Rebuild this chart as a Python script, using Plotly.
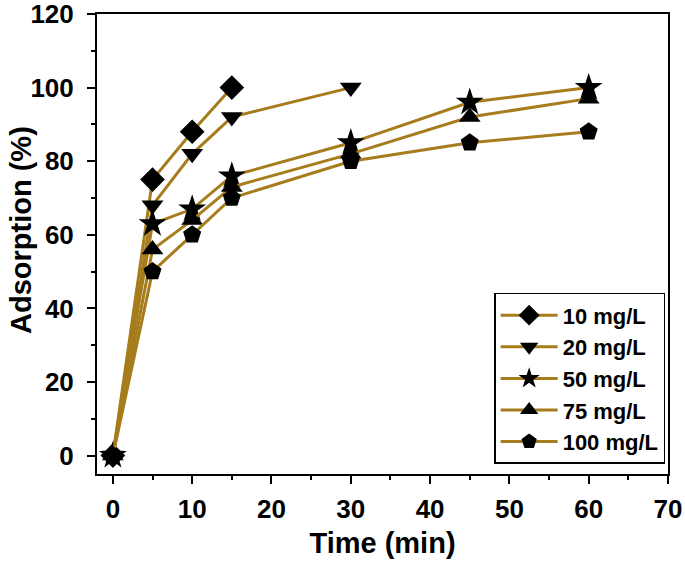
import plotly.graph_objects as go

time = [0, 5, 10, 15, 30, 45, 60]
series_names = ["10 mg/L", "20 mg/L", "50 mg/L", "75 mg/L", "100 mg/L"]
ads_10 = [0, 75, 88, 100]
ads_20 = [0, 68, 82, 92, 100]
ads_50 = [0, 63, 67, 76, 85, 96, 100]
ads_75 = [0, 56, 64, 73, 82, 92, 97]
ads_100 = [0, 50, 60, 70, 80, 85, 88]
symbols = ["diamond", "triangle-down", "star", "triangle-up", "pentagon"]
sizes = [19, 19, 21, 19, 19]

LINE = "#A67C1C"
FONT = "Liberation Sans, Arial, sans-serif"

fig = go.Figure()
for name, ys, sym, sz in zip(series_names, [ads_10, ads_20, ads_50, ads_75, ads_100], symbols, sizes):
    fig.add_trace(go.Scatter(
        x=time[:len(ys)], y=ys, name=name, mode="lines+markers",
        line=dict(color=LINE, width=3),
        marker=dict(symbol=sym, size=sz, color="black", line=dict(width=0)),
    ))

axis_common = dict(
    showline=True, linecolor="black", linewidth=2, mirror=True,
    ticks="outside", ticklen=8, tickwidth=2, tickcolor="black",
    showgrid=False, zeroline=False, automargin=False,
    ticklabeloverflow="allow",
    tickfont=dict(family=FONT, size=26, color="black", weight="bold"),
)

fig.update_xaxes(
    range=[-2, 70], tickvals=[0, 10, 20, 30, 40, 50, 60, 70],
    minor=dict(ticks="outside", ticklen=4, tickwidth=2, tickcolor="black", dtick=5, tick0=0),
    title=dict(text="<b>Time (min)</b>", font=dict(family=FONT, size=29, color="black"), standoff=9),
    ticklabelstandoff=3,
    **axis_common,
)
fig.update_yaxes(
    range=[-5, 120], tickvals=[0, 20, 40, 60, 80, 100, 120],
    minor=dict(ticks="outside", ticklen=4, tickwidth=2, tickcolor="black", dtick=10, tick0=0),
    ticklabelstandoff=8,
    **axis_common,
)

fig.add_annotation(
    text="<b>Adsorption (%)</b>", textangle=-90, showarrow=False,
    xref="paper", yref="paper", x=0, y=0.5, xanchor="center", yanchor="middle",
    xshift=-76, yshift=14,
    font=dict(family=FONT, size=29, color="black"),
)

fig.update_layout(
    width=685, height=561,
    margin=dict(l=97, r=17, t=14, b=87),
    plot_bgcolor="white", paper_bgcolor="white",
    legend=dict(
        x=0.995, y=0.022, xanchor="right", yanchor="bottom",
        bgcolor="white", bordercolor="black", borderwidth=1.5,
        font=dict(family=FONT, size=22, color="black", weight="bold"),
        tracegroupgap=0, itemwidth=57,
    ),
)

fig.write_html("out.html", config={"displayModeBar": False},
               post_script="document.body.style.margin='0';")
